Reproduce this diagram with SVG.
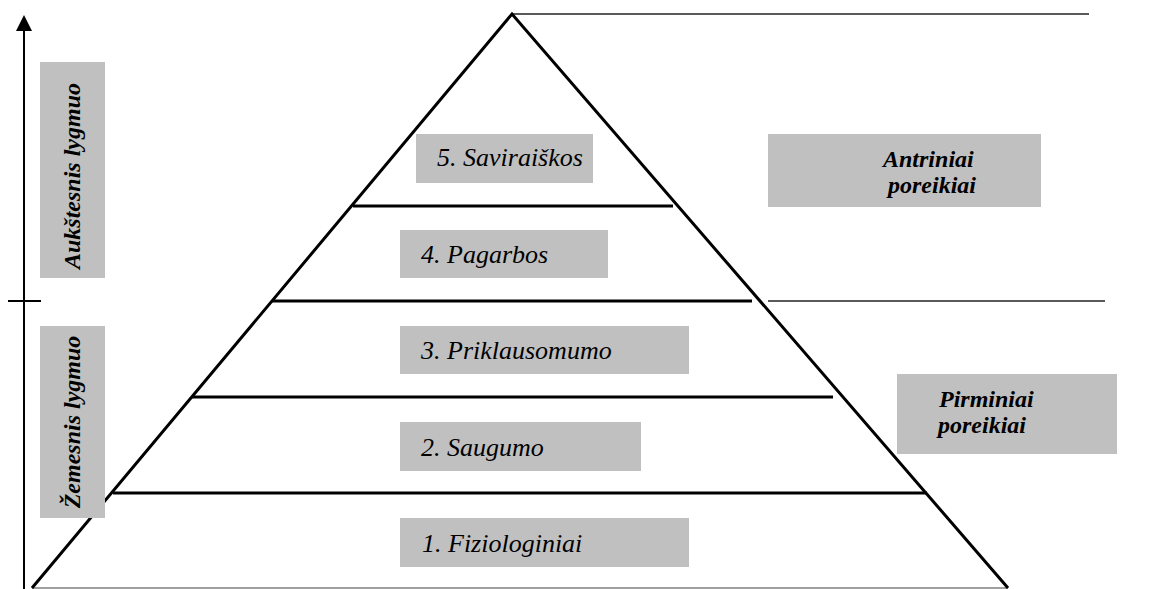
<svg xmlns="http://www.w3.org/2000/svg" width="1159" height="589" viewBox="0 0 1159 589">
<style>
.box{fill:#C0C0C0;stroke:none}
.thick{stroke:#000;stroke-width:3;fill:none}
.thin{stroke:#222;stroke-width:1.6;fill:none}
</style>
<rect width="1159" height="589" fill="#fff"/>
<g id="axis">
<line x1="24" y1="589" x2="24" y2="30" stroke="#000" stroke-width="2"/>
<path d="M24,15 L32,31 L16,31 Z" fill="#000"/>
<line x1="8" y1="301" x2="41" y2="301" stroke="#000" stroke-width="2"/>
</g>
<g id="connectors">
<line class="thin" x1="512" y1="14" x2="1089" y2="14"/>
<line class="thin" x1="768" y1="301" x2="1105" y2="301"/>
<line x1="32" y1="588" x2="1008" y2="588" stroke="#808080" stroke-width="1.5"/>
<polyline class="thick" points="32,588 512,14 1008,588"/>
<line class="thick" x1="353" y1="206" x2="673" y2="206"/>
<line class="thick" x1="272" y1="301" x2="752" y2="301"/>
<line class="thick" x1="192" y1="397" x2="833" y2="397"/>
<line class="thick" x1="113" y1="493" x2="927" y2="493"/>
</g>
<g font-family="Liberation Serif" font-style="italic" font-weight="bold" font-size="24" fill="#000">
<g id="aukstesnis">
<rect class="box" x="40" y="62" width="65" height="216"/>
<text transform="translate(80,176) rotate(-90)" text-anchor="middle">Aukštesnis lygmuo</text>
</g>
<g id="zemesnis">
<rect class="box" x="40" y="326" width="65" height="192"/>
<text transform="translate(80,422) rotate(-90)" text-anchor="middle">Žemesnis lygmuo</text>
</g>
<g id="antriniai">
<rect class="box" x="768" y="134" width="273" height="73"/>
<text x="883" y="167">Antriniai</text>
<text x="888" y="193">poreikiai</text>
</g>
<g id="pirminiai">
<rect class="box" x="897" y="374" width="220" height="80"/>
<text x="939" y="407">Pirminiai</text>
<text x="938" y="433">poreikiai</text>
</g>
</g>
<g font-family="Liberation Serif" font-style="italic" font-size="26" fill="#000">
<g id="lvl5">
<rect class="box" x="416" y="134" width="177" height="49"/>
<text x="437" y="166">5. Saviraiškos</text>
</g>
<g id="lvl4">
<rect class="box" x="400" y="230" width="208" height="48"/>
<text x="421" y="263">4. Pagarbos</text>
</g>
<g id="lvl3">
<rect class="box" x="400" y="326" width="289" height="48"/>
<text x="421" y="359">3. Priklausomumo</text>
</g>
<g id="lvl2">
<rect class="box" x="400" y="422" width="241" height="49"/>
<text x="421" y="456">2. Saugumo</text>
</g>
<g id="lvl1">
<rect class="box" x="400" y="518" width="289" height="49"/>
<text x="422" y="552">1. Fiziologiniai</text>
</g>
</g>
</svg>
